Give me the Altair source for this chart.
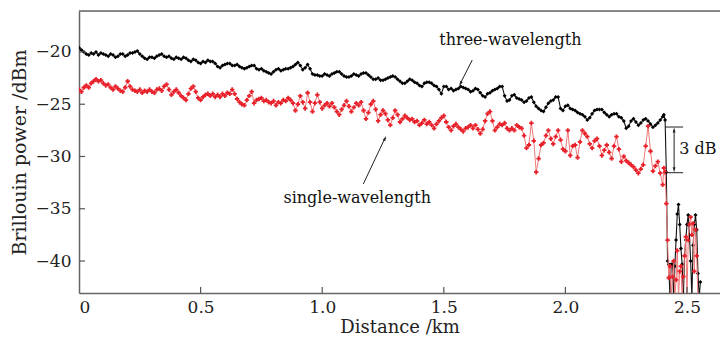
import altair as alt
import pandas as pd
import numpy as np

# ---------------- data ----------------
# main part sampled every 0.01 km from 0.00 to 2.39 km
three_main = [
    -19.6, -19.8, -20.0, -20.2, -20.3, -20.1, -20.2, -20.0, -20.3, -20.1,
    -20.2, -20.3, -20.4, -20.2, -20.3, -20.5, -20.4, -20.2, -20.2, -20.4,
    -20.3, -20.1, -20.1, -20.0, -19.9, -20.2, -20.4, -20.6, -20.7, -20.5,
    -20.5, -20.6, -20.4, -20.3, -20.2, -20.4, -20.5, -20.4, -20.6, -20.7,
    -20.5, -20.6, -20.7, -20.5, -20.6, -20.8, -20.9, -20.7, -20.8, -21.0,
    -21.1, -20.9, -21.0, -20.8, -20.9, -20.9, -21.1, -21.4, -21.5, -21.3,
    -21.2, -21.1, -21.1, -21.3, -21.3, -21.2, -21.4, -21.5, -21.6, -21.5,
    -21.4, -21.3, -21.3, -21.6, -21.7, -21.6, -21.8, -21.9, -22.0, -22.1,
    -21.9, -21.7, -21.6, -21.8, -21.7, -21.6, -21.6, -21.5, -21.4, -21.2,
    -21.0, -21.3, -21.7, -21.5, -21.2, -21.6, -22.1, -22.2, -22.2, -22.3,
    -22.3, -22.1, -22.2, -22.3, -22.1, -22.0, -21.9, -21.9, -22.1, -22.3,
    -22.4, -22.4, -22.3, -22.1, -22.2, -22.3, -22.1, -22.0, -22.0, -22.2,
    -22.4, -22.6, -22.6, -22.5, -22.7, -22.7, -22.6, -22.5, -22.4, -22.3,
    -22.4, -22.6, -22.8, -23.0, -23.0, -22.8, -22.6, -22.7, -22.9, -23.0,
    -23.2, -23.3, -23.0, -22.9, -22.9, -23.0, -23.2, -23.3, -23.6, -24.0,
    -23.3, -23.3, -23.6, -23.5, -23.7, -23.6, -23.5, -23.3, -23.4, -23.5,
    -23.6, -23.8, -23.7, -23.5, -23.6, -23.9, -24.2, -24.3, -24.0, -23.9,
    -23.7, -23.6, -23.5, -23.3, -23.3, -24.2, -24.7, -24.6, -24.2, -24.1,
    -24.4, -24.5, -24.6, -24.8, -24.7, -24.4, -24.3, -24.8, -25.2, -25.4,
    -25.6, -25.7, -25.3, -24.9, -24.7, -24.6, -24.3, -24.3, -25.4, -25.6,
    -25.2, -25.1, -25.4, -25.5, -25.6, -25.8, -25.9, -26.0, -26.2, -26.5,
    -26.3, -25.9, -25.6, -25.5, -25.5, -25.5, -25.8, -26.0, -26.2, -26.0,
    -25.9, -25.9, -26.2, -26.3, -26.6, -27.3, -27.1, -26.6, -26.4, -26.7,
    -27.0, -26.8, -26.5, -26.4, -26.6, -26.9, -27.2, -27.0, -26.8, -26.5,
]
single_main = [
    -23.6, -23.8, -23.4, -23.2, -23.4, -23.0, -22.8, -22.6, -22.8, -22.7,
    -23.0, -23.2, -23.1, -23.4, -23.6, -23.3, -23.5, -23.7, -23.8, -23.4,
    -22.8, -23.3, -23.6, -23.7, -23.8, -23.6, -23.9, -23.7, -23.8, -23.6,
    -23.8, -23.9, -23.6, -23.5, -23.7, -23.3, -23.1, -23.6, -24.1, -23.8,
    -23.6, -23.9, -24.2, -24.4, -24.6, -24.0, -23.5, -23.3, -23.8, -24.4,
    -24.6, -24.3, -24.1, -24.0, -24.2, -24.0, -24.3, -24.1, -24.3, -24.0,
    -24.2, -23.9, -24.0, -23.6, -24.0, -24.5, -24.8, -25.0, -25.1, -24.6,
    -24.2, -23.8, -24.9, -24.6, -24.5, -24.4, -24.7, -24.6, -24.8, -24.9,
    -24.7, -25.1, -24.8, -24.9, -24.6, -24.7, -24.4, -24.6, -24.9, -25.6,
    -25.0, -24.2, -24.8, -25.4, -23.9, -24.8, -25.7, -24.9, -24.1, -24.8,
    -25.4, -25.1, -24.9, -25.2, -24.9, -25.3, -25.7, -26.0, -25.5, -25.1,
    -24.7, -25.2, -25.7, -25.3, -24.9, -25.1, -24.8, -25.6, -26.4, -25.8,
    -25.0, -24.7, -25.5, -26.6, -26.0, -25.6, -25.9, -26.5, -27.0, -26.3,
    -25.6, -26.0, -26.7, -26.4, -26.1, -26.3, -26.5, -26.4, -26.7, -26.6,
    -27.0, -26.8, -26.5, -26.9, -26.7, -27.0, -27.3, -26.9, -26.6, -26.3,
    -26.1, -26.7, -27.2, -27.5, -27.1, -26.9, -27.2, -27.4, -27.6, -27.3,
    -27.2, -27.0, -27.3, -27.0, -27.4, -27.8, -27.4, -26.6, -25.9, -25.7,
    -26.6, -27.5, -27.2, -26.9, -27.0, -26.8, -27.3, -27.5, -27.3, -27.5,
    -27.0, -27.2, -27.3, -28.0, -29.2, -28.9, -26.8, -28.5, -31.5, -30.2,
    -28.9, -28.7, -28.0, -27.5, -28.3, -28.8, -28.1, -27.5, -28.4, -29.3,
    -29.5, -27.5, -29.9, -29.0, -28.9, -30.1, -28.6, -27.5, -27.8, -28.1,
    -28.8, -29.2, -28.5, -28.3, -29.0, -29.9, -29.4, -28.9, -29.6, -30.2,
    -29.0, -28.1, -29.3, -30.5, -30.0, -30.4, -30.6, -30.8, -31.0, -31.3,
    -31.6, -31.2, -30.8, -29.0, -27.1, -29.5, -31.4, -30.9, -30.5, -31.6,
]
# fibre end (0.005 km steps)
three_tail_dist = [
    2.400, 2.405, 2.410, 2.415, 2.420, 2.425, 2.430, 2.435, 2.440, 2.445,
    2.450, 2.455, 2.460, 2.465, 2.470, 2.475, 2.480, 2.485, 2.490, 2.495,
    2.500, 2.505, 2.510, 2.515, 2.520, 2.525, 2.530, 2.535, 2.540, 2.545,
    2.550, 2.555,
]
three_tail = [
    -26.2, -26.0, -26.5, -31.5, -40.0, -40.3, -43.5, -40.3, -40.3, -43.5,
    -40.5, -38.0, -35.5, -34.6, -36.5, -38.8, -40.3, -43.5, -39.5, -38.0,
    -36.5, -35.6, -37.5, -40.0, -43.5, -38.5, -36.5, -35.6, -37.0, -41.2,
    -43.5, -42.0,
]
single_tail_dist = [
    2.400, 2.405, 2.410, 2.415, 2.420, 2.425, 2.430, 2.435, 2.440, 2.445,
    2.450, 2.455, 2.460, 2.465, 2.470, 2.475, 2.480, 2.485, 2.490, 2.495,
    2.500, 2.505, 2.510, 2.515, 2.520, 2.525, 2.530, 2.535, 2.540, 2.545,
]
single_tail = [
    -32.7, -31.1, -31.5, -34.5, -38.0, -41.6, -40.5, -43.5, -41.5, -40.0,
    -43.5, -41.8, -39.0, -43.5, -41.0, -40.5, -43.5, -41.5, -39.5, -37.7,
    -43.5, -38.0, -36.5, -35.8, -37.5, -36.4, -41.0, -37.0, -39.5, -43.5,
]

x_ticks = [0, 0.5, 1.0, 1.5, 2.0, 2.5]
y_ticks = [-40, -35, -30, -25, -20]
labels = ["three-wavelength", "single-wavelength", "3 dB"]

# ---------------- tables ----------------
main_dist = list(np.round(np.arange(len(three_main)) * 0.01, 3))
df3 = pd.DataFrame({"d": main_dist + three_tail_dist, "v": three_main + three_tail})
df1 = pd.DataFrame({"d": main_dist + single_tail_dist, "v": single_main + single_tail})

W, H = 641, 282
XD = [0, W / 243.2]
YD = [-43.06, -16.08]
FONT = "DejaVu Serif"

xs = alt.Scale(domain=XD, nice=False, zero=False)
ys = alt.Scale(domain=YD, nice=False, zero=False)

X = alt.X("d:Q", scale=xs, axis=alt.Axis(
    values=x_ticks, ticks=False, grid=False, title="Distance /km",
    labelExpr="datum.value == 0 ? '0' : format(datum.value, '.1f')",
    labelFont=FONT, labelFontSize=17, labelColor="#222", labelPadding=6,
    titleFont=FONT, titleFontSize=18, titleFontWeight="normal", titleColor="#222",
    titlePadding=3, domainColor="#666", domainWidth=1.5))
Y = alt.Y("v:Q", scale=ys, axis=alt.Axis(
    values=y_ticks, ticks=False, grid=False, title="Brillouin power /dBm",
    labelExpr="replace(format(datum.value, 'd'), '-', '\u2212')",
    labelFont=FONT, labelFontSize=17, labelColor="#222", labelPadding=8,
    titleFont=FONT, titleFontSize=19, titleFontWeight="normal", titleColor="#222",
    titlePadding=6, domainColor="#666", domainWidth=1.5))

black_line = alt.Chart(df3).mark_line(color="#111", strokeWidth=1.1, clip=True).encode(x=X, y=Y)
black_pts = alt.Chart(df3).mark_point(shape="diamond", filled=True, size=16, color="#000",
                                      opacity=1, clip=True).encode(x=X, y=Y)
red_line = alt.Chart(df1).mark_line(color="#f07878", strokeWidth=1.0, clip=True).encode(x=X, y=Y)
red_pts = alt.Chart(df1).mark_point(shape="cross", filled=True, size=20, color="#e8202a",
                                    opacity=1, clip=True).encode(x=X, y=Y)

# inward ticks
xt = pd.DataFrame({"d": x_ticks[1:]})
ytk = pd.DataFrame({"v": y_ticks})
xtick = alt.Chart(xt).mark_rule(color="#555", strokeWidth=1.2).encode(
    x=alt.X("d:Q", scale=xs), y=alt.value(H), y2=alt.value(H - 6))
ytick = alt.Chart(ytk).mark_rule(color="#555", strokeWidth=1.2).encode(
    y=alt.Y("v:Q", scale=ys), x=alt.value(0), x2=alt.value(6))
topline = alt.Chart(pd.DataFrame({"a": [0]})).mark_rule(color="#666", strokeWidth=1.5).encode(
    x=alt.value(0), x2=alt.value(W), y=alt.value(0))

# annotations
txt = pd.DataFrame({
    "d": [1.774, 1.144, 2.468],
    "v": [-18.85, -33.97, -29.3],
    "label": labels,
    "align": ["center", "center", "left"],
})
text_c = alt.Chart(txt[txt["align"] == "center"]).mark_text(
    font=FONT, fontSize=16, color="#111", align="center", baseline="middle").encode(
    x=alt.X("d:Q", scale=xs), y=alt.Y("v:Q", scale=ys), text="label:N")
text_l = alt.Chart(txt[txt["align"] == "left"]).mark_text(
    font=FONT, fontSize=16, color="#111", align="left", baseline="middle").encode(
    x=alt.X("d:Q", scale=xs), y=alt.Y("v:Q", scale=ys), text="label:N")

segs = pd.DataFrame({
    "d": [1.617, 1.169, 2.410, 2.410, 2.447],
    "v": [-20.77, -32.63, -27.18, -31.55, -27.5],
    "d2": [1.566, 1.259, 2.484, 2.484, 2.447],
    "v2": [-23.1, -28.2, -27.18, -31.55, -31.2],
})
seg_rules = alt.Chart(segs).mark_rule(color="#222", strokeWidth=1).encode(
    x=alt.X("d:Q", scale=xs), y=alt.Y("v:Q", scale=ys),
    x2="d2:Q", y2="v2:Q")

heads = pd.DataFrame({
    "d": [1.564, 1.263, 2.447, 2.447],
    "v": [-23.25, -28.04, -27.22, -31.51],
    "ang": [206.6, 25.6, 0, 180],
})
head_pts = alt.Chart(heads).mark_point(
    shape="M0,0 L-0.45,1.6 L0.45,1.6 Z", filled=True, size=40, color="#222", opacity=1).encode(
    x=alt.X("d:Q", scale=xs), y=alt.Y("v:Q", scale=ys), angle=alt.Angle("ang:Q", scale=None))

chart = alt.layer(
    black_line, black_pts, red_line, red_pts,
    xtick, ytick, topline, seg_rules, head_pts, text_c, text_l,
).properties(
    width=W, height=H,
    autosize=alt.AutoSizeParams(type="none"),
    padding={"left": 71, "top": 3, "right": 0, "bottom": 44},
).configure_view(stroke=None).configure(background="white")

chart.save("out.html", embed_options={"renderer": "svg", "actions": False})
